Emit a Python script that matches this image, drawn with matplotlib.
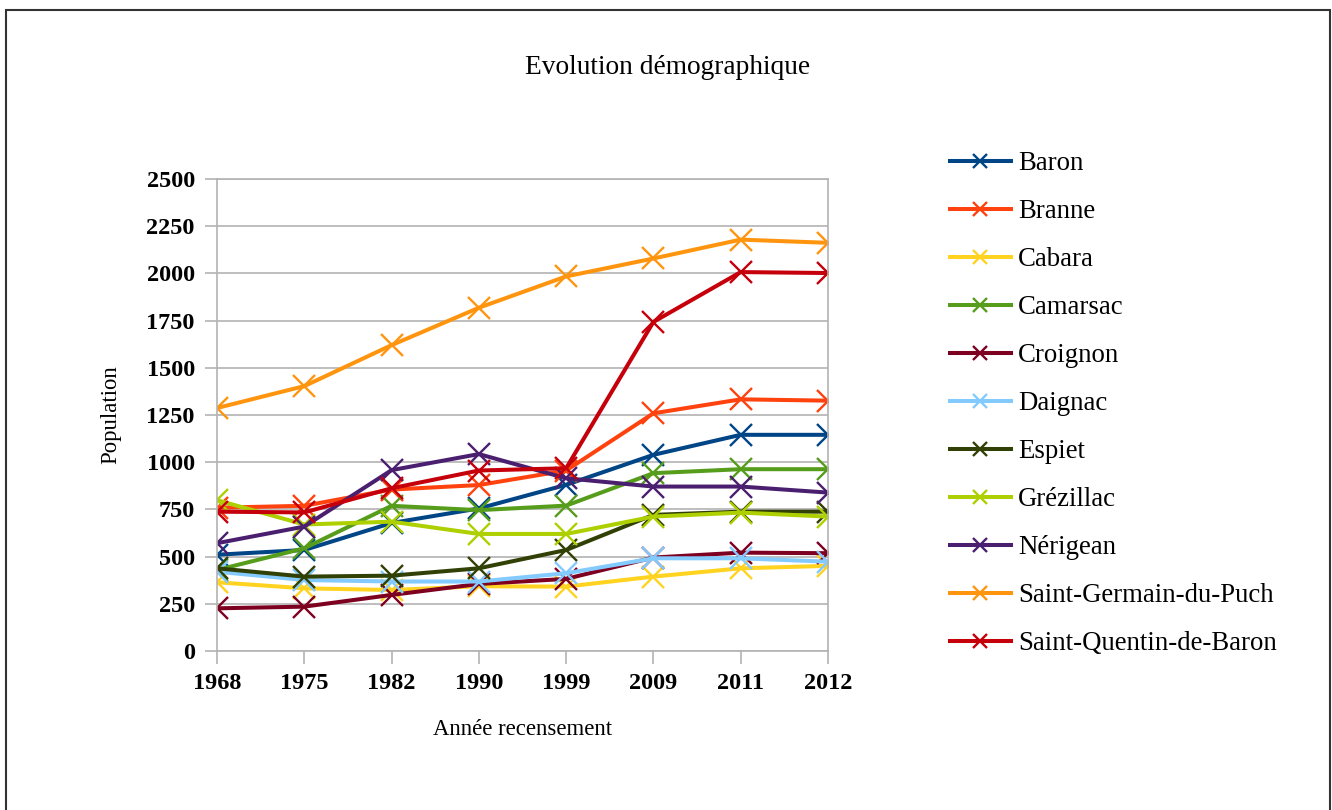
import matplotlib.pyplot as plt
from matplotlib.patches import Rectangle

plt.rcParams['font.family'] = ['Liberation Serif', 'DejaVu Serif']

years = ["1968", "1975", "1982", "1990", "1999", "2009", "2011", "2012"]

baron = [510, 535, 678, 755, 880, 1039, 1145, 1145]
branne = [759, 769, 855, 879, 956, 1259, 1333, 1326]
cabara = [364, 332, 323, 343, 341, 394, 438, 451]
camarsac = [429, 544, 769, 746, 770, 942, 963, 963]
croignon = [226, 235, 297, 355, 382, 495, 521, 518]
daignac = [420, 376, 368, 368, 412, 491, 491, 473]
espiet = [438, 394, 399, 438, 535, 721, 738, 738]
grezillac = [799, 670, 685, 620, 620, 712, 733, 712]
nerigean = [571, 659, 958, 1043, 915, 871, 871, 839]
st_germain = [1287, 1403, 1620, 1818, 1984, 2079, 2179, 2162]
st_quentin = [738, 734, 862, 956, 968, 1743, 2007, 2002]

communes = ["Baron", "Branne", "Cabara", "Camarsac", "Croignon", "Daignac",
            "Espiet", "Grézillac", "Nérigean", "Saint-Germain-du-Puch",
            "Saint-Quentin-de-Baron"]
series = [baron, branne, cabara, camarsac, croignon, daignac,
          espiet, grezillac, nerigean, st_germain, st_quentin]
colors = ["#004586", "#ff420e", "#ffd320", "#579d1c", "#7e0021", "#83caff",
          "#314004", "#aecf00", "#4b1f6f", "#ff950e", "#c5000b"]

fig = plt.figure(figsize=(13.32, 8.1), dpi=100)
ax = fig.add_axes([0.1629, 0.1963, 0.4587, 0.5827])

x = list(range(len(years)))
for name, vals, col in zip(communes, series, colors):
    ax.plot(x, vals, color=col, lw=2.9, marker="x", markersize=16,
            markeredgewidth=1.7, label=name)

ax.set_xlim(0, len(years) - 1)
ax.set_ylim(0, 2500)
ax.set_xticks(x)
ax.set_xticklabels(years)
ax.set_yticks(range(0, 2501, 250))
ax.grid(axis="y", color="#b3b3b3", lw=1.2)
ax.set_axisbelow(True)
for s in ax.spines.values():
    s.set_color("#b3b3b3")
    s.set_linewidth(1.2)
ax.tick_params(color="#b3b3b3", length=9, width=1.2, labelsize=17.5, pad=7)
for lab in ax.get_xticklabels() + ax.get_yticklabels():
    lab.set_fontweight("bold")

ax.set_xlabel("Année recensement", fontsize=16.4, labelpad=18)
ax.set_ylabel("Population", fontsize=16.4, labelpad=18)
fig.text(0.5015, 0.917, "Evolution démographique", fontsize=19.7,
         ha="center", va="center")

ax.legend(loc="upper left", bbox_to_anchor=(1.165, 1.105), frameon=False,
          fontsize=19.3, handlelength=2.25, handletextpad=0.28,
          labelspacing=0.86, markerscale=0.65, borderpad=0.3)

fig.patches.append(Rectangle((6 / 1332, -0.01), 1324 / 1332, 1 - 10 / 810 + 0.01,
                             transform=fig.transFigure, fill=False,
                             edgecolor="#333333", lw=1.5))

plt.savefig("out.png")
